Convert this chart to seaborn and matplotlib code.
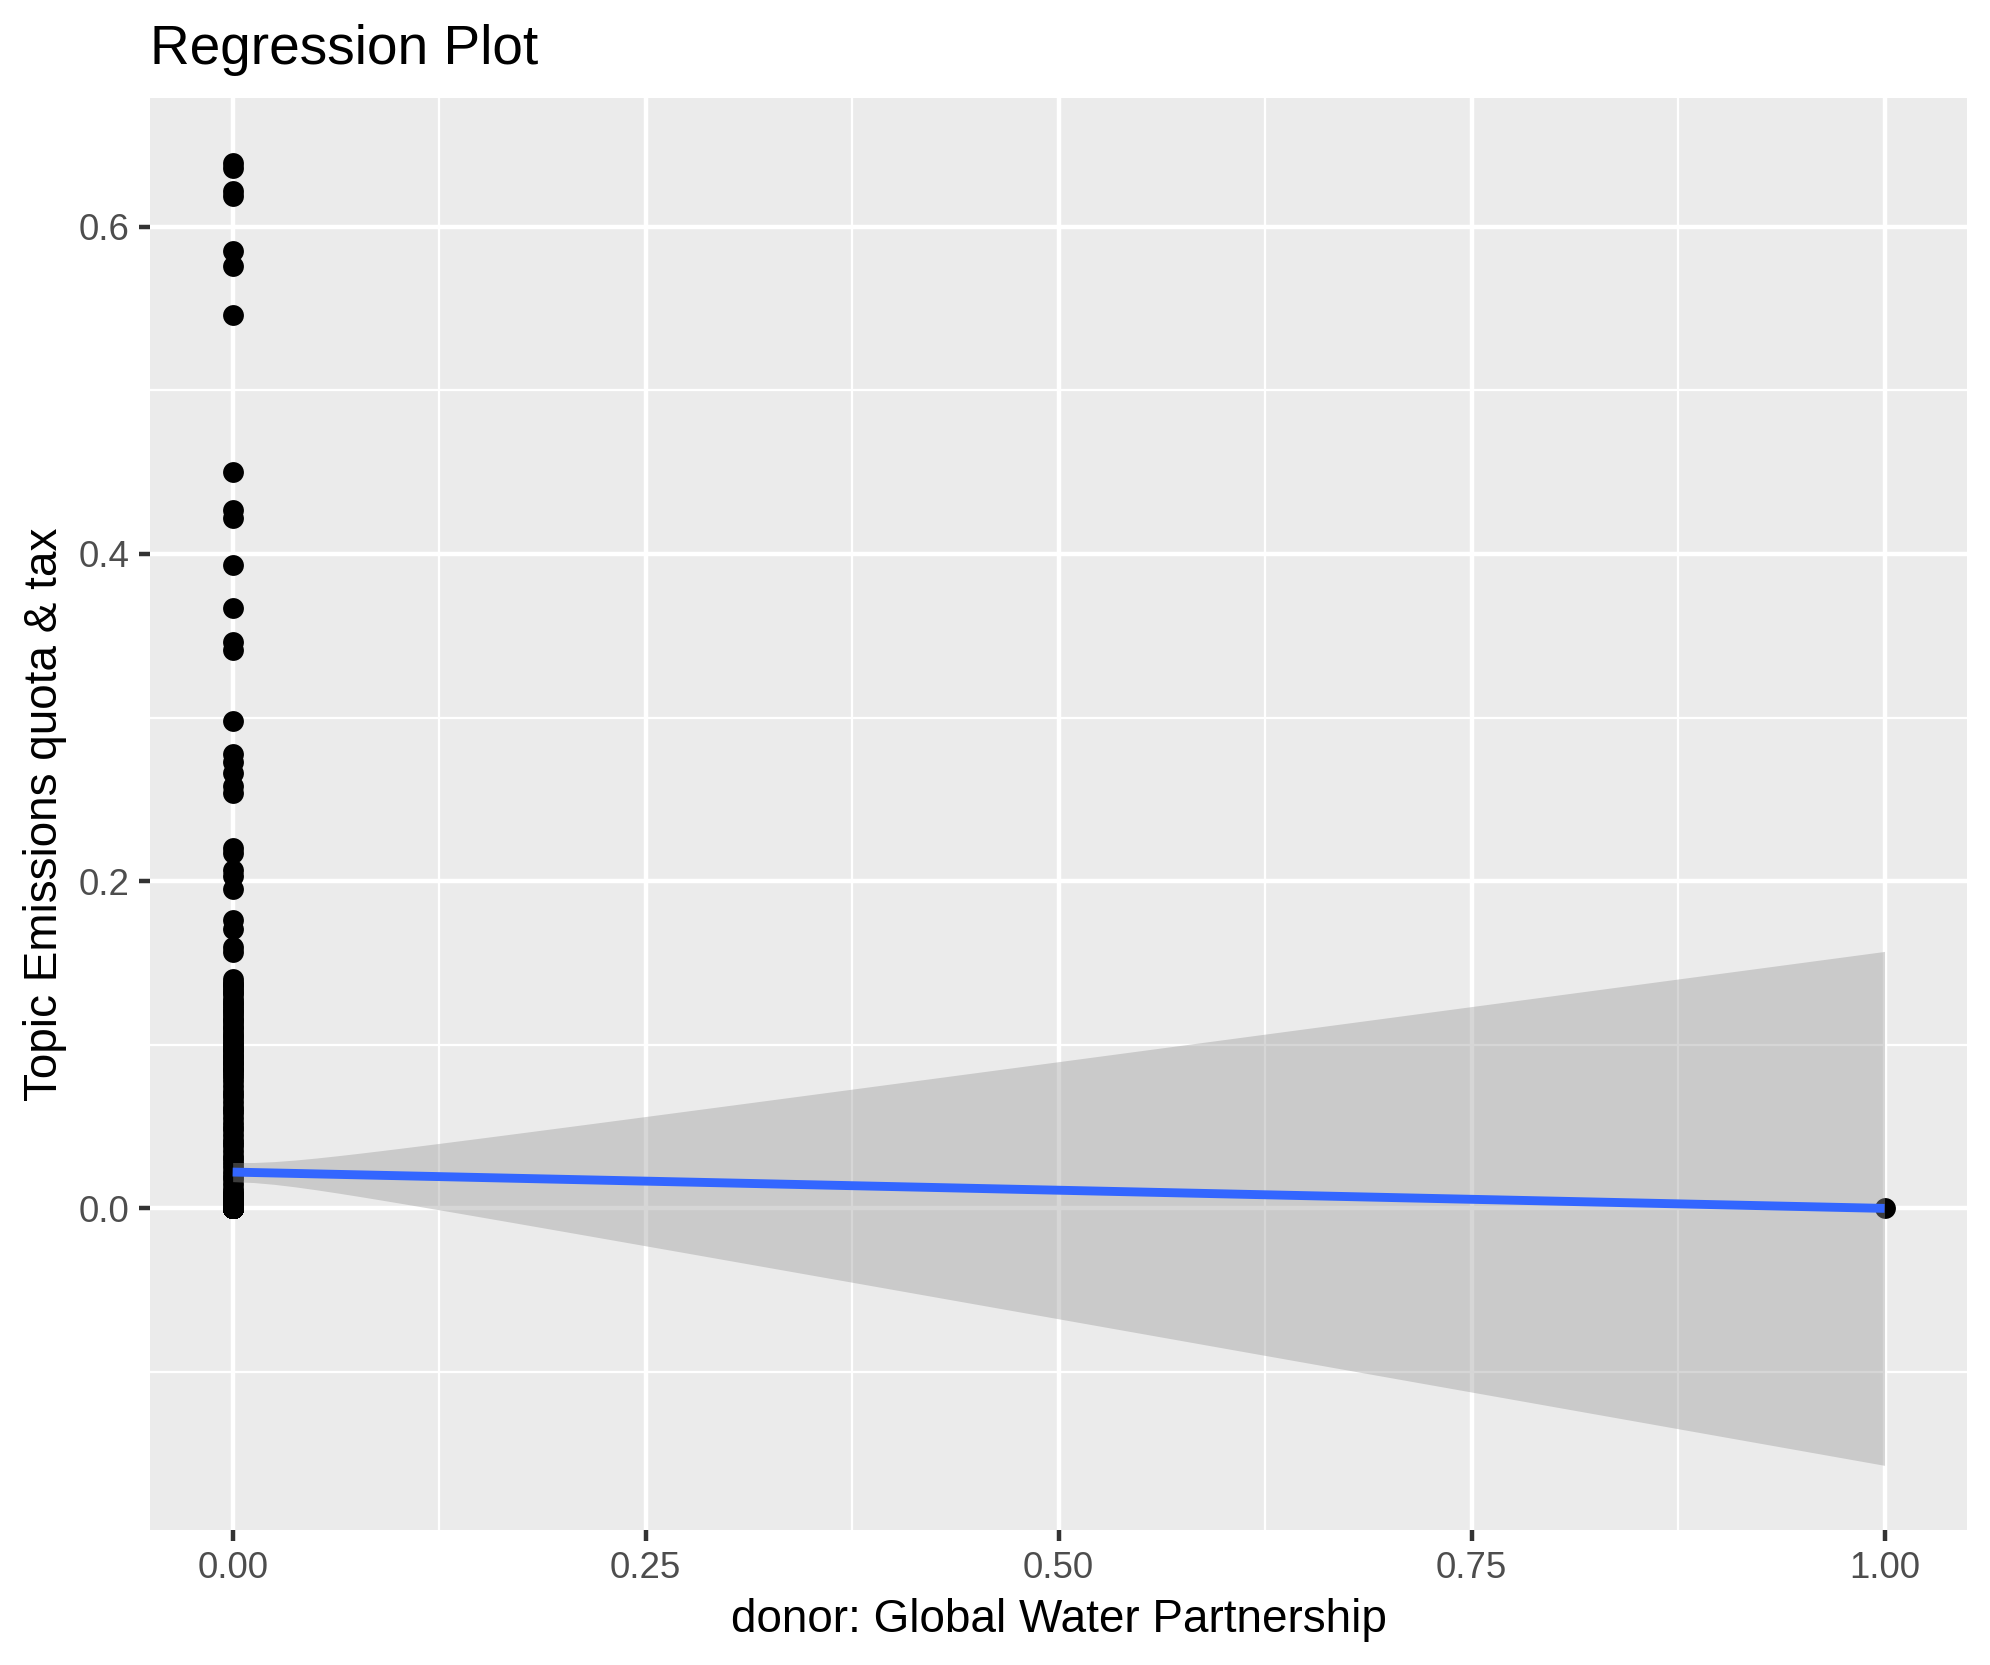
import numpy as np
import pandas as pd
import seaborn as sns
import matplotlib
matplotlib.use("Agg")
import matplotlib.pyplot as plt
from matplotlib.ticker import FixedLocator

# ---------------- data ----------------
title = "Regression Plot"
x_label = "donor: Global Water Partnership"
y_label = "Topic Emissions quota & tax"

x_ticks = [0.0, 0.25, 0.5, 0.75, 1.0]
x_tick_labels = ["0.00", "0.25", "0.50", "0.75", "1.00"]
x_minor = [0.125, 0.375, 0.625, 0.875]
y_ticks = [0.0, 0.2, 0.4, 0.6]
y_tick_labels = ["0.0", "0.2", "0.4", "0.6"]
y_minor = [-0.1, 0.1, 0.3, 0.5]

# observations with donor = 0 (distinct values and how many times each occurs)
y0_high = [0.639, 0.636, 0.622, 0.619, 0.585, 0.576, 0.546, 0.450, 0.427, 0.422,
           0.393, 0.367, 0.346, 0.341, 0.298, 0.278, 0.273, 0.266, 0.258, 0.254,
           0.220, 0.217, 0.207, 0.203, 0.195, 0.176, 0.171, 0.160, 0.157]
y0_upper = [0.140, 0.138, 0.137, 0.136, 0.134, 0.132, 0.131, 0.128, 0.126, 0.125,
            0.123, 0.121, 0.120, 0.118, 0.116, 0.115, 0.113, 0.111, 0.110, 0.108,
            0.106, 0.105, 0.103, 0.101, 0.100, 0.098, 0.097, 0.096, 0.094, 0.093,
            0.092, 0.090, 0.089, 0.088, 0.086, 0.085, 0.084, 0.082, 0.080]
y0_lower = [0.078, 0.075, 0.072, 0.070, 0.068, 0.065, 0.062, 0.060, 0.058, 0.055,
            0.052, 0.050, 0.048, 0.045, 0.042, 0.040, 0.038, 0.035, 0.032, 0.030,
            0.028, 0.025, 0.022, 0.020, 0.018, 0.015, 0.012, 0.010]
y0_near_zero = [0.008, 0.006, 0.005, 0.004, 0.003, 0.002, 0.001, 0.0]
y0_near_zero_counts = [5, 5, 5, 8, 10, 15, 20, 556]

# observations with donor = 1
y1_values = [0.0]

# ---------------- build frame ----------------
y0 = np.concatenate([y0_high, y0_upper, y0_lower,
                     np.repeat(y0_near_zero, y0_near_zero_counts)])
y_all = np.concatenate([y0, y1_values])
x_all = np.concatenate([np.zeros(len(y0)), np.ones(len(y1_values))])
df = pd.DataFrame({"x": x_all, "y": y_all})

# ---------------- style ----------------
plt.rcParams["font.family"] = ["Liberation Sans", "DejaVu Sans"]

fig = plt.figure(figsize=(1990 / 300, 1665 / 300), dpi=300)
left, right, bottom, top = 0.0754, 0.9885, 0.0808, 0.9413
ax = fig.add_axes([left, bottom, right - left, top - bottom])
ax.set_facecolor("#EBEBEB")
for s in ax.spines.values():
    s.set_visible(False)

# OLS confidence band (as geom_smooth(method = "lm"))
n = len(df)
xbar = df["x"].mean()
sxx = ((df["x"] - xbar) ** 2).sum()
slope = ((df["x"] - xbar) * (df["y"] - df["y"].mean())).sum() / sxx
intercept = df["y"].mean() - slope * xbar
resid = df["y"] - (intercept + slope * df["x"])
sigma = np.sqrt((resid ** 2).sum() / (n - 2))
xs = np.linspace(df["x"].min(), df["x"].max(), 80)
fit = intercept + slope * xs
se = sigma * np.sqrt(1.0 / n + (xs - xbar) ** 2 / sxx)
tq = 1.9633
lo = fit - tq * se
hi = fit + tq * se

sns.regplot(data=df, x="x", y="y", ax=ax, ci=None, truncate=True,
            scatter_kws=dict(s=25, color="black", linewidths=0, alpha=1, zorder=2),
            line_kws=dict(color="#3366FF", lw=2.13, zorder=4, solid_capstyle="butt"))
ax.fill_between(xs, lo, hi, color="#999999", alpha=0.4, linewidth=0, zorder=3)

# limits with 5% expansion
ymin = min(lo.min(), df["y"].min())
ymax = max(hi.max(), df["y"].max())
yr = ymax - ymin
ax.set_ylim(ymin - 0.05 * yr, ymax + 0.05 * yr)
ax.set_xlim(-0.05, 1.05)

# grid
ax.xaxis.set_major_locator(FixedLocator(x_ticks))
ax.yaxis.set_major_locator(FixedLocator(y_ticks))
ax.set_xticklabels(x_tick_labels)
ax.set_yticklabels(y_tick_labels)
ax.xaxis.set_minor_locator(FixedLocator(x_minor))
ax.yaxis.set_minor_locator(FixedLocator(y_minor))
ax.set_axisbelow(True)
ax.grid(which="major", color="white", linewidth=1.07)
ax.grid(which="minor", color="white", linewidth=0.53)
ax.tick_params(which="major", length=2.75, width=1.07, color="#333333",
               labelsize=8.8, labelcolor="#4D4D4D", pad=2.2)
ax.tick_params(which="minor", length=0)

ax.set_xlabel(x_label, fontsize=11, color="black", labelpad=2.75)
ax.set_ylabel(y_label, fontsize=11, color="black", labelpad=2.75)
ax.set_title(title, loc="left", fontsize=13.2, color="black", pad=8)

fig.savefig("out.png", dpi=300)
